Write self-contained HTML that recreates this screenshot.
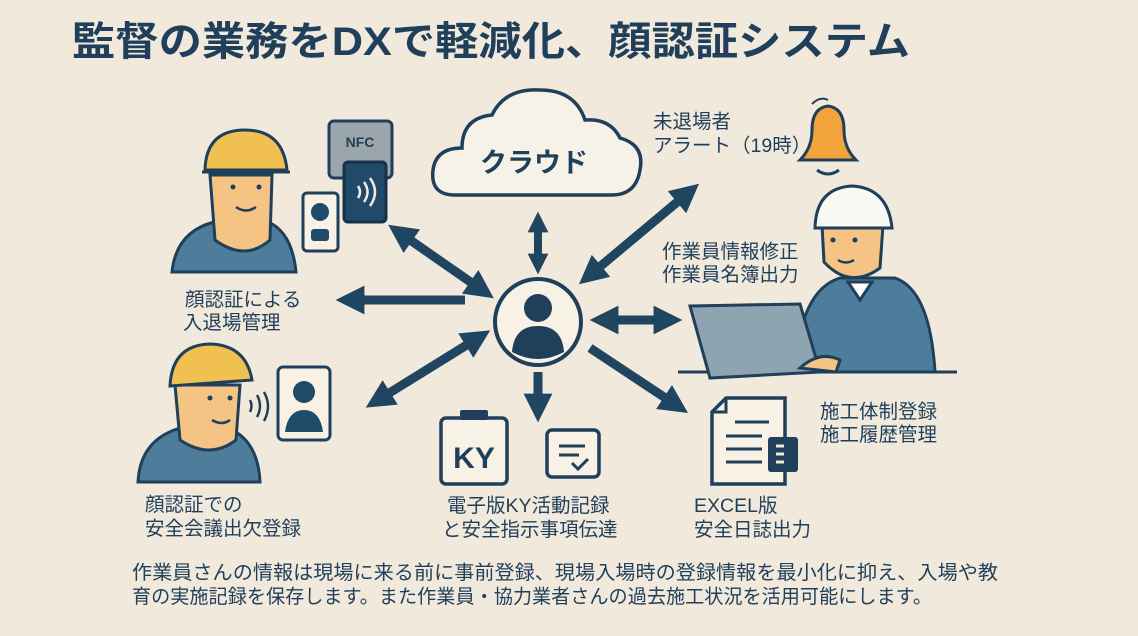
<!DOCTYPE html>
<html><head><meta charset="utf-8"><style>
html,body{margin:0;padding:0;background:#f2e9dd;}
svg{display:block;font-family:"Liberation Sans","Noto Sans CJK JP",sans-serif;}
</style></head><body>
<svg width="1138" height="636" viewBox="0 0 1138 636" xmlns="http://www.w3.org/2000/svg">
<defs>
<marker id="ah" viewBox="0 0 10 10" refX="5" refY="5" markerWidth="3.2" markerHeight="3.2" orient="auto-start-reverse"><path d="M0,0 L10,5 L0,10 z" fill="#1f4560"/></marker>
<marker id="ah2" viewBox="0 0 10 10" refX="5" refY="5" markerWidth="2.6" markerHeight="2.6" orient="auto-start-reverse"><path d="M0,0 L10,5 L0,10 z" fill="#1f4560"/></marker>
</defs>
<rect width="1138" height="636" fill="#f2e9dd"/>
<text x="72" y="55" font-size="40" fill="#1f3f5a" font-weight="bold" textLength="838" lengthAdjust="spacingAndGlyphs">監督の業務をDXで軽減化、顔認証システム</text>

<!-- arrows -->
<g stroke="#1f4560" stroke-width="9" fill="none">
<line x1="465" y1="300" x2="350" y2="300" marker-end="url(#ah)"/>
<line x1="400" y1="233" x2="482" y2="290" marker-start="url(#ah)" marker-end="url(#ah)"/>
<line x1="538" y1="222" x2="538" y2="264" stroke-width="8" marker-start="url(#ah2)" marker-end="url(#ah2)"/>
<line x1="590" y1="275" x2="688" y2="193" marker-start="url(#ah)" marker-end="url(#ah)"/>
<line x1="604" y1="320" x2="668" y2="320" marker-start="url(#ah)" marker-end="url(#ah)"/>
<line x1="590" y1="348" x2="676" y2="405" marker-end="url(#ah)"/>
<line x1="538" y1="372" x2="538" y2="408" marker-end="url(#ah)"/>
<line x1="478" y1="338" x2="378" y2="400" marker-start="url(#ah)" marker-end="url(#ah)"/>
</g>

<!-- center -->
<circle cx="538" cy="322" r="43" fill="#f7f1e6" stroke="#1f3f5a" stroke-width="4"/>
<circle cx="538" cy="308" r="14" fill="#1f3f5a"/>
<path d="M512,352 Q514,326 538,326 Q562,326 564,352 Q538,366 512,352z" fill="#1f3f5a"/>

<!-- cloud -->
<path d="M455,195 Q430,195 433,170 Q436,148 462,148 Q462,118 492,115 Q505,88 540,90 Q575,90 585,120 Q610,118 620,138 Q645,145 640,170 Q636,195 612,195 Z" fill="#f7f2e8" stroke="#1f3f5a" stroke-width="3.5"/>
<text x="534" y="172" font-size="27" font-weight="bold" fill="#1f3f5a" text-anchor="middle">クラウド</text>

<!-- NFC -->
<rect x="329" y="121" width="63" height="57" rx="5" fill="#9aa6ac" stroke="#1f3f5a" stroke-width="3"/>
<text x="360" y="147" font-size="14" font-weight="bold" fill="#1f3f5a" text-anchor="middle">NFC</text>
<rect x="344" y="162" width="42" height="60" rx="4" fill="#1f4a6a" stroke="#16324a" stroke-width="3"/>
<path d="M358,186 q4,6 0,12 M364,182 q7,10 0,20 M370,178 q10,14 0,28" stroke="#f2e9dd" stroke-width="2.5" fill="none"/>
<rect x="303" y="193" width="35" height="58" rx="4" fill="#f7f1e6" stroke="#1f3f5a" stroke-width="3"/>
<circle cx="320" cy="212" r="9" fill="#1f4a6a"/>
<rect x="311" y="229" width="18" height="12" rx="3" fill="#1f4a6a"/>

<!-- worker1 -->
<g stroke="#1f3f5a" stroke-width="3">
<path d="M172,272 Q176,232 214,222 L268,222 Q292,232 296,272 Z" fill="#4e7d9b"/>
<path d="M210,175 L272,175 L270,240 Q245,262 215,240 Z" fill="#f5c384"/>
<path d="M205,170 Q206,130 245,130 Q283,130 287,170 Z" fill="#f0c150"/>
<line x1="202" y1="172" x2="290" y2="172"/>
</g>
<circle cx="233" cy="187" r="2.5" fill="#1f3f5a"/><circle cx="259" cy="187" r="2.5" fill="#1f3f5a"/>
<path d="M236,207 q10,7 20,0" stroke="#1f3f5a" stroke-width="2.5" fill="none"/>

<!-- worker2 -->
<g stroke="#1f3f5a" stroke-width="3">
<path d="M138,482 Q140,440 180,428 L228,428 Q258,440 260,482 Z" fill="#4e7d9b"/>
<path d="M175,385 L240,385 L236,440 Q210,460 180,440 Z" fill="#f5c384"/>
<path d="M170,386 Q172,345 210,344 Q246,345 252,380 Z" fill="#f0c150"/>
</g>
<circle cx="210" cy="398" r="2.5" fill="#1f3f5a"/><circle cx="230" cy="398" r="2.5" fill="#1f3f5a"/>
<path d="M212,420 q10,6 18,0" stroke="#1f3f5a" stroke-width="2.5" fill="none"/>
<path d="M250,400 q3,6 0,12 M257,395 q6,11 0,22 M264,392 q8,14 0,29" stroke="#1f3f5a" stroke-width="2.5" fill="none"/>
<rect x="278" y="367" width="52" height="73" rx="5" fill="#f7f1e6" stroke="#1f3f5a" stroke-width="3"/>
<circle cx="304" cy="392" r="11" fill="#1f4a6a"/>
<path d="M285,432 Q288,410 304,410 Q320,410 323,432 Z" fill="#1f4a6a"/>

<!-- bell -->
<path d="M800,160 Q812,148 812,130 Q812,108 828,106 Q844,108 844,130 Q844,148 856,160 Z" fill="#f2a33a" stroke="#1f3f5a" stroke-width="3"/>
<path d="M817,170 q11,8 22,0" stroke="#1f3f5a" stroke-width="3" fill="none"/>
<path d="M812,104 q8,-8 16,-4" stroke="#1f3f5a" stroke-width="2" fill="none"/>

<!-- manager -->
<line x1="678" y1="372" x2="957" y2="372" stroke="#1f3f5a" stroke-width="3"/>
<g stroke="#1f3f5a" stroke-width="3">
<path d="M795,372 Q800,290 840,278 L895,278 Q930,290 935,372 Z" fill="#4e7d9b"/>
<path d="M848,282 L860,300 L872,282 Z" fill="#fff"/>
<path d="M822,225 L883,225 L880,268 Q850,290 824,262 Z" fill="#f5c384"/>
<path d="M815,228 Q816,188 852,186 Q888,188 892,228 Z" fill="#fafaf5"/>
<path d="M690,306 L800,304 L820,372 L710,378 Z" fill="#8fa4b1"/>
<path d="M800,368 Q820,350 840,360 L836,372 Z" fill="#f5c384"/>
</g>
<circle cx="833" cy="240" r="2.5" fill="#1f3f5a"/><circle cx="855" cy="240" r="2.5" fill="#1f3f5a"/>
<path d="M838,260 q8,5 16,0" stroke="#1f3f5a" stroke-width="2.5" fill="none"/>

<!-- KY -->
<rect x="441" y="418" width="66" height="66" rx="5" fill="#f7f1e6" stroke="#1f3f5a" stroke-width="3.5"/>
<rect x="460" y="410" width="28" height="10" rx="2" fill="#1f3f5a"/>
<text x="474" y="468" font-size="30" font-weight="bold" fill="#1f3f5a" text-anchor="middle">KY</text>
<rect x="547" y="430" width="52" height="47" rx="5" fill="#f7f1e6" stroke="#1f3f5a" stroke-width="3.5"/>
<path d="M559,446 h26 M559,455 h20 M572,463 l6,6 l10,-10" stroke="#1f3f5a" stroke-width="3" fill="none"/>

<!-- excel doc -->
<path d="M726,398 L785,398 L785,484 L712,484 L712,412 Z" fill="#f7f1e6" stroke="#1f3f5a" stroke-width="3.5"/>
<path d="M726,398 L726,412 L712,412" fill="none" stroke="#1f3f5a" stroke-width="3"/>
<path d="M735,422 h34 M726,436 h36 M726,449 h36 M726,462 h36" stroke="#1f3f5a" stroke-width="3"/>
<rect x="768" y="437" width="30" height="35" rx="3" fill="#1f3f5a"/>
<path d="M776,446 h8 M776,454 h8 M776,462 h8" stroke="#f2e9dd" stroke-width="3"/>

<!-- labels -->
<g font-size="19.5" fill="#1f3f5a">
<text x="185" y="306">顔認証による</text><text x="183" y="329">入退場管理</text>
<text x="145" y="511">顔認証での</text><text x="145" y="535">安全会議出欠登録</text>
<text x="447" y="512">電子版KY活動記録</text><text x="442" y="536">と安全指示事項伝達</text>
<text x="694" y="512">EXCEL版</text><text x="694" y="536">安全日誌出力</text>
<text x="820" y="418">施工体制登録</text><text x="820" y="441">施工履歴管理</text>
<text x="662" y="258">作業員情報修正</text><text x="662" y="281">作業員名簿出力</text>
<text x="653" y="128">未退場者</text><text x="653" y="152">アラート（19時）</text>
<text x="132" y="579" textLength="866" lengthAdjust="spacingAndGlyphs">作業員さんの情報は現場に来る前に事前登録、現場入場時の登録情報を最小化に抑え、入場や教</text>
<text x="132" y="603" textLength="800" lengthAdjust="spacingAndGlyphs">育の実施記録を保存します。また作業員・協力業者さんの過去施工状況を活用可能にします。</text>
</g>
</svg>
</body></html>
